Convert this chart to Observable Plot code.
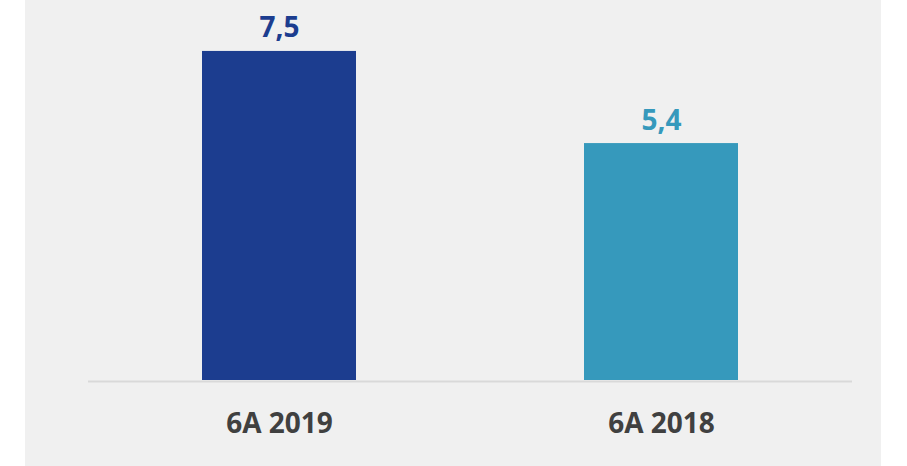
<!DOCTYPE html>
<html>
<head>
<meta charset="utf-8">
<script src="https://cdn.jsdelivr.net/npm/d3@7"></script>
<script src="https://cdn.jsdelivr.net/npm/@observablehq/plot@0.6"></script>
<style>
  html, body { margin: 0; padding: 0; background: #ffffff; }
  #wrap { position: absolute; left: 25px; top: 0; width: 856px; height: 466px; background: #f0f0f0; }
  #wrap svg { display: block; background: transparent; }
</style>
</head>
<body>
<div id="wrap"></div>
<script>
const categories = ["6A 2019", "6A 2018"];
const values = [7.5, 5.4];
const labels = ["7,5", "5,4"];
const colors = ["#1c3d8f", "#3699bc"];

const data = categories.map((c, i) => ({category: c, value: values[i], label: labels[i], color: colors[i]}));

const font = "'Open Sans', sans-serif";

const chart = Plot.plot({
  width: 856,
  height: 466,
  marginLeft: 63,
  marginRight: 29,
  marginTop: 29,
  marginBottom: 86,
  style: {background: "transparent", fontFamily: font, overflow: "visible"},
  x: {domain: categories, paddingInner: 0.597, paddingOuter: 0.2985, label: null},
  y: {domain: [0, 8], axis: null},
  marks: [
    Plot.barY(data, {x: "category", y: "value", fill: "color"}),
    Plot.ruleY([0], {stroke: "#d9d9d9", strokeWidth: 2, dy: 1}),
    Plot.text(data, {x: "category", y: "value", text: "label", fill: "color", fontSize: 28, fontWeight: "bold", lineAnchor: "bottom", dy: -14}),
    Plot.axisX({tickSize: 0, tickPadding: 33, fontSize: 28, fontWeight: "bold", fill: "#404040", label: null})
  ]
});
document.getElementById("wrap").appendChild(chart);
</script>
</body>
</html>
